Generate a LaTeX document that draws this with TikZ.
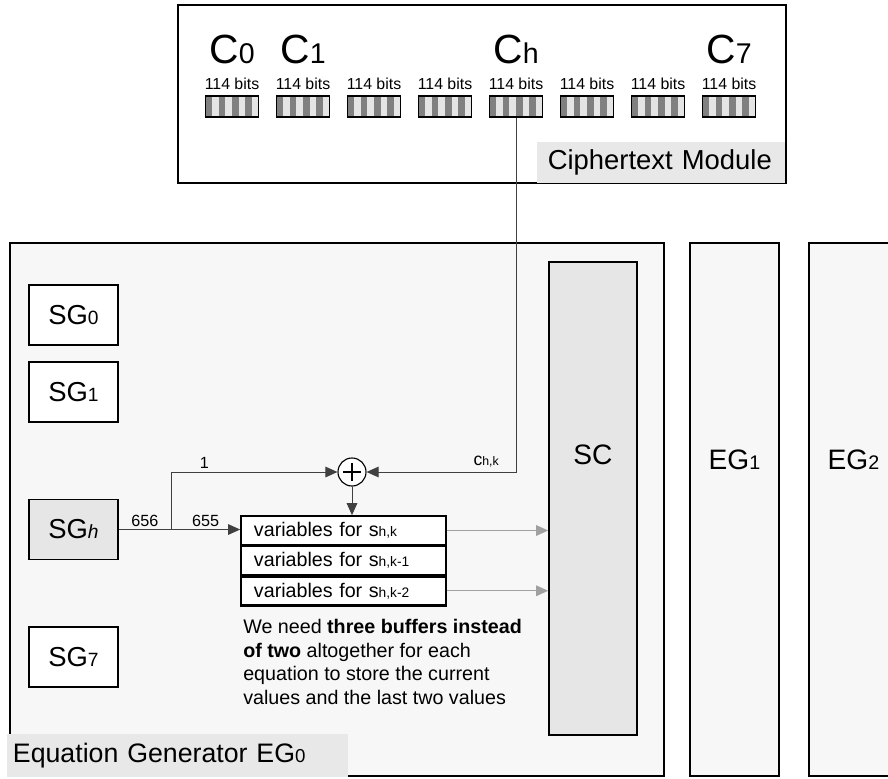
\documentclass[tikz,border=0pt]{standalone}
\usepackage{fontspec}
\setmainfont{Liberation Sans}
\usetikzlibrary{arrows.meta,positioning,calc}
\definecolor{boxfill}{HTML}{F7F7F7}
\definecolor{darkfill}{HTML}{E6E6E6}
\definecolor{tagfill}{HTML}{E8E8E8}
\definecolor{stripedark}{HTML}{808080}
\definecolor{stripelight}{HTML}{E4E4E4}
\definecolor{linegray}{HTML}{404040}
\definecolor{lightarrow}{HTML}{A0A0A0}
\newcommand{\lowsub}[1]{\scalebox{0.7}{#1}}

\begin{document}
\begin{tikzpicture}[
    x=0.025cm,
    y=-0.025cm,
    frame/.style={
        draw,
        line width=1.2pt,
        fill=boxfill,
        inner sep=0pt
    },
    sgbox/.style={
        draw,
        line width=1.2pt,
        fill=white,
        minimum width=2.225cm,
        minimum height=1.5cm,
        font=\fontsize{19.5}{22}\selectfont
    },
    tag/.style={
        fill=tagfill,
        inner xsep=0.15cm,
        inner ysep=0pt,
        align=left,
        font=\fontsize{19}{22}\selectfont
    },
    buffer/.style={
        draw,
        line width=1.2pt,
        fill=stripelight,
        minimum width=1.325cm,
        minimum height=0.525cm,
        inner sep=0pt,
        path picture={
            \foreach \k in {0,2,4,6}
                \fill[stripedark] ([xshift=\k*0.1656cm]path picture bounding box.south west)
                    rectangle ([xshift=(\k+1)*0.1656cm]path picture bounding box.north west);
        }
    },
    varbox/.style={
        draw,
        line width=1.2pt,
        fill=white,
        minimum width=5.125cm,
        minimum height=0.725cm,
        inner xsep=0.325cm,
        inner ysep=0pt,
        text width=4.475cm,
        align=left,
        font=\fontsize{14}{16}\selectfont
    },
    xorbox/.style={
        circle,
        draw,
        line width=0.8pt,
        fill=white,
        minimum size=0.7cm,
        inner sep=0pt,
        path picture={
            \draw[line width=1.8pt] ([xshift=-0.22cm]path picture bounding box.center)
                -- ([xshift=0.22cm]path picture bounding box.center);
            \draw[line width=1.8pt] ([yshift=-0.22cm]path picture bounding box.center)
                -- ([yshift=0.22cm]path picture bounding box.center);
        }
    },
    bigtext/.style={font=\fontsize{20}{23}\selectfont},
    bitstext/.style={font=\fontsize{11.3}{13}\selectfont, inner sep=0pt, anchor=base},
    numtext/.style={font=\fontsize{11.5}{13}\selectfont, inner sep=2pt},
    arrow/.style={
        -{Triangle[length=8.5pt,width=7.5pt]},
        draw=linegray,
        line width=0.7pt
    },
    grayarrow/.style={
        -{Triangle[length=8.5pt,width=7.5pt]},
        draw=lightarrow,
        line width=0.9pt
    }
]
\useasboundingbox (0,0) rectangle (888,778);

% Equation generators
\node[frame, minimum width=16.35cm, minimum height=13.325cm] (eg0) at (337,509.5) {};
\node[frame, minimum width=2.225cm, minimum height=13.325cm] (eg1) at (734.5,509.5) {};
\node[frame, minimum width=2.225cm, minimum height=13.325cm] (eg2) at (853.5,509.5) {};
\node[bigtext] (eg1text) at (734.5,460) {EG\lowsub{1}};
\node[bigtext] (eg2text) at (853.5,460) {EG\lowsub{2}};
\node[tag, minimum width=8.525cm, minimum height=1.075cm, text width=8.225cm] (egtag) at (177.5,755.5) {Equation Generator EG\lowsub{0}};

% Ciphertext module
\node[frame, fill=white, minimum width=15.2cm, minimum height=4.45cm] (cmod) at (482,94) {};
\node[tag, inner xsep=0.27cm, minimum width=6.2cm, minimum height=1.025cm, text width=5.66cm, font=\fontsize{19.5}{22}\selectfont] (ctag) at (661,162.5) {Ciphertext Module};
\foreach \i in {0,...,7} {
    \node[buffer] (b\i) at (232+71*\i,106.5) {};
    \node[bitstext] (bits\i) at (232+71*\i,89) {114 bits};
}
\node[font=\fontsize{29}{32}\selectfont, inner sep=0pt, anchor=base] (c0) at (232,63) {C\lowsub{0}};
\node[font=\fontsize{29}{32}\selectfont, inner sep=0pt, anchor=base] (c1) at (303,63) {C\lowsub{1}};
\node[font=\fontsize{29}{32}\selectfont, inner sep=0pt, anchor=base] (ch) at (516,63) {C\lowsub{h}};
\node[font=\fontsize{29}{32}\selectfont, inner sep=0pt, anchor=base] (c7) at (729,63) {C\lowsub{7}};

% Stream generators
\node[sgbox] (sg0) at (73.5,315) {SG\lowsub{0}};
\node[sgbox, below=0.375cm of sg0] (sg1) {SG\lowsub{1}};
\node[sgbox, fill=darkfill] (sgh) at (73.5,529.5) {SG\lowsub{\itshape h}};
\node[sgbox] (sg7) at (73.5,657) {SG\lowsub{7}};

% SC
\node[frame, fill=darkfill, minimum width=2.2cm, minimum height=11.825cm] (sc) at (593,498.5) {};
\node[bigtext] (sctext) at (593,455) {SC};

% Buffers for the variables
\node[varbox] (v1) at (343.5,530.5) {variables for s\lowsub{h,k}};
\node[varbox, below=-0.6pt of v1] (v2) {variables for s\lowsub{h,k-1}};
\node[varbox, line width=2pt, below=-0.6pt of v2] (v3) {variables for s\lowsub{h,k-2}};
\node[anchor=north west, inner sep=0pt, align=left, font=\fontsize{14}{16.7}\selectfont] (note) at (243,619)
    {We need \textbf{three buffers instead}\\
     \textbf{of two} altogether for each\\
     equation to store the current\\
     values and the last two values};

% XOR
\node[xorbox] (xor) at (352,472) {};
\coordinate (fork) at (171,529.5);

% Arrows
\draw[draw=linegray, line width=0.7pt] (sgh.east) -- node[numtext, above] {656} (fork);
\draw[arrow] (fork) -- node[numtext, above] {655} (fork -| v1.west);
\draw[arrow] (fork) |- node[numtext, pos=0.6, above] {1} (xor.west);
\draw[arrow] (b4.south) |- node[pos=0.6, above=2pt, inner sep=1pt, font=\fontsize{12.5}{14}\selectfont] {c\lowsub{h,k}} (xor.east);
\draw[arrow] (xor.south) -- (xor.south |- v1.north);
\draw[grayarrow] (v1.east) -- (v1.east -| sc.west);
\draw[grayarrow] (v3.east) -- (v3.east -| sc.west);

\end{tikzpicture}
\end{document}
